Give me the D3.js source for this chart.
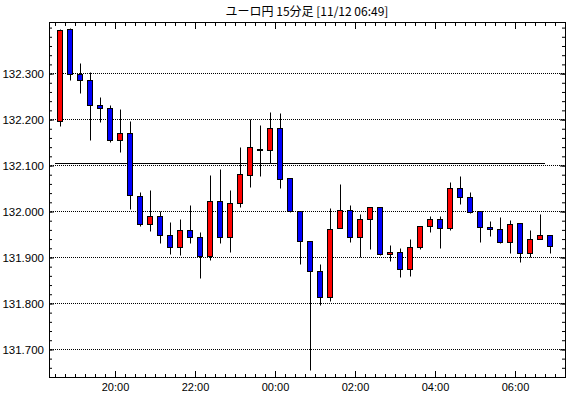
<!DOCTYPE html>
<html>
<head>
<meta charset="utf-8">
<script src="https://cdn.jsdelivr.net/npm/d3@7"></script>
<style>
  body { margin: 0; background: #fff; }
  svg { display: block; }
</style>
</head>
<body>
<div id="chart"></div>
<script>
const title = "ユーロ円 15分足 [11/12 06:49]";

const times = ["18:30","18:45","19:00","19:15","19:30","19:45","20:00","20:15","20:30","20:45",
  "21:00","21:15","21:30","21:45","22:00","22:15","22:30","22:45","23:00","23:15",
  "23:30","23:45","00:00","00:15","00:30","00:45","01:00","01:15","01:30","01:45",
  "02:00","02:15","02:30","02:45","03:00","03:15","03:30","03:45","04:00","04:15",
  "04:30","04:45","05:00","05:15","05:30","05:45","06:00","06:15","06:30","06:45"];

const opens = [132.196,132.396,132.298,132.285,132.231,132.224,132.155,132.170,132.033,131.972,
  131.990,131.948,131.922,131.959,131.944,131.903,132.022,131.944,132.018,132.079,
  132.134,132.133,132.181,132.072,132.000,131.935,131.870,131.813,131.963,132.003,
  131.944,131.983,132.009,131.907,131.911,131.874,131.922,131.968,131.983,131.963,
  132.050,132.031,132.000,131.966,131.961,131.933,131.974,131.909,131.940,131.948];

const highs = [132.396,132.397,132.321,132.303,132.247,132.231,132.221,132.195,132.042,132.045,
  132.000,131.977,131.982,132.012,131.955,132.079,132.092,132.045,132.140,132.200,
  132.188,132.216,132.214,132.072,132.000,131.935,131.884,132.006,132.058,132.014,
  131.994,132.009,132.009,131.927,131.920,131.938,131.968,131.990,131.990,132.063,
  132.077,132.042,132.000,131.979,131.987,131.981,131.974,131.958,131.993,131.948];

const lows = [132.185,132.284,132.256,132.155,132.193,132.150,132.128,132.005,131.967,131.956,
  131.930,131.906,131.905,131.930,131.854,131.893,131.930,131.910,132.008,132.052,
  132.076,132.105,132.050,131.997,131.885,131.654,131.795,131.804,131.963,131.932,
  131.900,131.918,131.904,131.891,131.856,131.858,131.918,131.954,131.919,131.958,
  132.015,131.996,131.932,131.945,131.931,131.908,131.889,131.900,131.940,131.908];

const closes = [132.394,132.298,132.284,132.231,132.224,132.155,132.170,132.035,131.972,131.990,
  131.947,131.922,131.959,131.944,131.903,132.022,131.944,132.018,132.081,132.140,
  132.134,132.181,132.070,132.000,131.935,131.869,131.813,131.961,132.003,131.944,
  131.983,132.009,131.907,131.911,131.874,131.922,131.968,131.983,131.963,132.050,
  132.031,131.998,131.965,131.961,131.933,131.972,131.908,131.940,131.948,131.924];

const refLine = 132.105;
const yGrid = [131.7, 131.8, 131.9, 132.0, 132.1, 132.2, 132.3];

// build dates (evening on 11/11, morning on 11/12)
const toDate = s => {
  const [h, m] = s.split(":").map(Number);
  return new Date(2024, 10, h >= 12 ? 11 : 12, h, m);
};
const data = times.map((t, i) => ({
  t: toDate(t), open: opens[i], high: highs[i], low: lows[i], close: closes[i]
}));

const W = 570, H = 398;
const mLeft = 49, mRight = 565, mTop = 23, mBottom = 377;

const svg = d3.select("#chart").append("svg")
  .attr("width", W)
  .attr("height", H);

const first = data[0].t, last = data[data.length - 1].t;
const x = d3.scaleTime()
  .domain([d3.timeMinute.offset(first, -9), d3.timeMinute.offset(last, 30)])
  .range([mLeft, mRight]);

const y = d3.scaleLinear()
  .domain([131.64, 132.41])
  .range([mBottom, mTop]);

const py = v => Math.floor(y(v)) + 0.5;
const font = "'Liberation Sans', Arial, sans-serif";

// gridlines
svg.append("g")
  .selectAll("line")
  .data(yGrid)
  .join("line")
  .attr("x1", mLeft)
  .attr("x2", mRight)
  .attr("y1", d => py(d))
  .attr("y2", d => py(d))
  .attr("stroke", "#000")
  .attr("stroke-dasharray", "1,1");

// reference line
svg.append("line")
  .attr("x1", Math.round(x(first)))
  .attr("x2", Math.round(x(last)))
  .attr("y1", py(refLine))
  .attr("y2", py(refLine))
  .attr("stroke", "#000");

// x ticks
const minor = d3.timeMinute.every(15).range(x.domain()[0], x.domain()[1]);
const major = d3.timeHour.every(2).range(x.domain()[0], x.domain()[1]);

svg.append("g")
  .attr("transform", `translate(0,${mBottom})`)
  .call(d3.axisBottom(x).tickValues(minor).tickSize(-3).tickFormat(""))
  .call(g => g.select(".domain").remove());
svg.append("g")
  .attr("transform", `translate(0,${mBottom})`)
  .call(d3.axisBottom(x).tickValues(major).tickSize(-6).tickPadding(6).tickFormat(d3.timeFormat("%H:%M")))
  .call(g => g.select(".domain").remove())
  .call(g => g.selectAll("text").attr("font-family", font).attr("font-size", 11).attr("fill", "#000"));
svg.append("g")
  .attr("transform", `translate(0,${mTop})`)
  .call(d3.axisTop(x).tickValues(minor).tickSize(-3).tickFormat(""))
  .call(g => g.select(".domain").remove());
svg.append("g")
  .attr("transform", `translate(0,${mTop})`)
  .call(d3.axisTop(x).tickValues(major).tickSize(-6).tickFormat(""))
  .call(g => g.select(".domain").remove());

// y ticks
const yMinor = d3.range(131.64, 132.41, 0.02);
svg.append("g")
  .attr("transform", `translate(${mLeft},0)`)
  .call(d3.axisLeft(y).tickValues(yMinor).tickSize(-3).tickFormat(""))
  .call(g => g.select(".domain").remove());
svg.append("g")
  .attr("transform", `translate(${mLeft},0)`)
  .call(d3.axisLeft(y).tickValues(yGrid).tickSize(-5).tickPadding(5).tickFormat(d3.format(".3f")))
  .call(g => g.select(".domain").remove())
  .call(g => g.selectAll("text").attr("font-family", font).attr("font-size", 11.5).attr("fill", "#000"));
svg.append("g")
  .attr("transform", `translate(${mRight},0)`)
  .call(d3.axisRight(y).tickValues(yMinor).tickSize(-3).tickFormat(""))
  .call(g => g.select(".domain").remove());
svg.append("g")
  .attr("transform", `translate(${mRight},0)`)
  .call(d3.axisRight(y).tickValues(yGrid).tickSize(-5).tickFormat(""))
  .call(g => g.select(".domain").remove());

// candles
const cx = d => Math.round(x(d3.timeSecond.offset(d.t, 450)));
const candles = svg.append("g");
candles.selectAll("line")
  .data(data)
  .join("line")
  .attr("x1", d => cx(d) + 0.5)
  .attr("x2", d => cx(d) + 0.5)
  .attr("y1", d => py(d.high))
  .attr("y2", d => py(d.low))
  .attr("stroke", "#000");
candles.selectAll("rect")
  .data(data)
  .join("rect")
  .attr("x", d => cx(d) - 2.5)
  .attr("width", 5)
  .attr("y", d => py(Math.max(d.open, d.close)))
  .attr("height", d => Math.max(1, py(Math.min(d.open, d.close)) - py(Math.max(d.open, d.close))))
  .attr("fill", d => d.close >= d.open ? "#ff0000" : "#0000ff")
  .attr("stroke", "#000");

// frame
svg.append("rect")
  .attr("x", mLeft + 0.5)
  .attr("y", mTop - 0.5)
  .attr("width", mRight - mLeft)
  .attr("height", mBottom - mTop + 1)
  .attr("fill", "none")
  .attr("stroke", "#000");

// title
svg.append("text")
  .attr("x", (mLeft + mRight) / 2)
  .attr("y", 16)
  .attr("text-anchor", "middle")
  .attr("font-family", "'Noto Sans CJK JP', sans-serif")
  .attr("font-size", 12)
  .text(title);
</script>
</body>
</html>
